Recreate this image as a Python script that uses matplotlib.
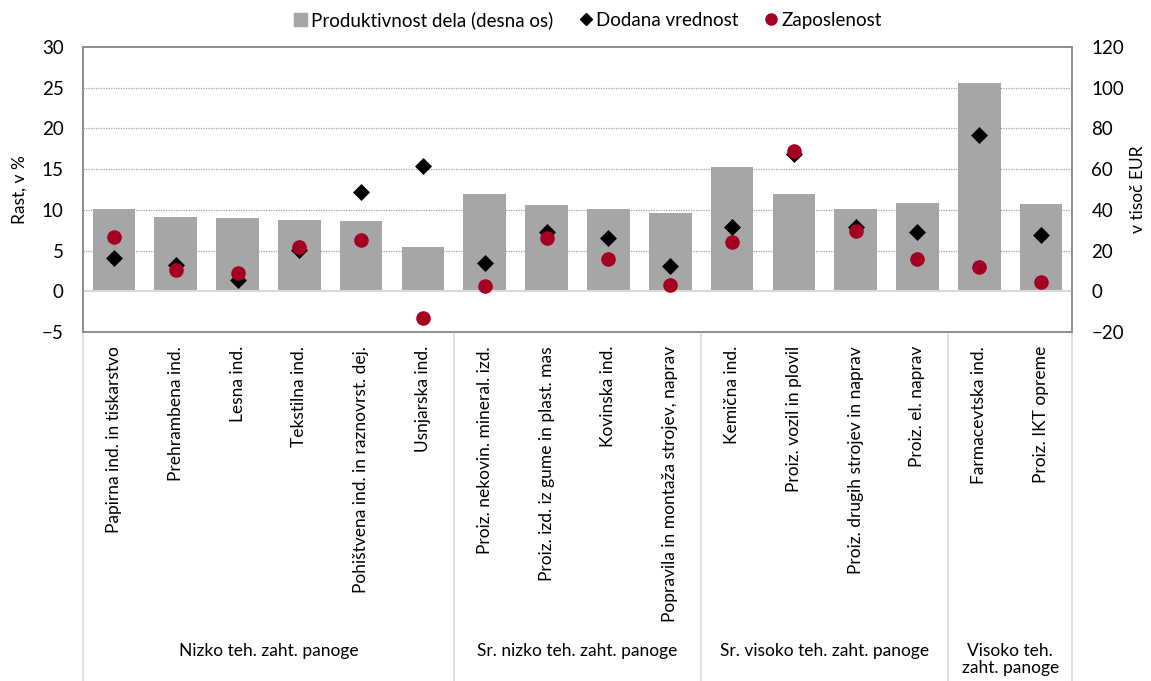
import numpy as np
import matplotlib.pyplot as plt
from matplotlib.lines import Line2D
from matplotlib.patches import Patch

plt.rcParams['font.family'] = ['Lato', 'DejaVu Sans']

# Panoge (categories)
categories = [
    'Papirna ind. in tiskarstvo', 'Prehrambena ind.', 'Lesna ind.', 'Tekstilna ind.',
    'Pohištvena ind. in raznovrst. dej.', 'Usnjarska ind.',
    'Proiz. nekovin. mineral. izd.', 'Proiz. izd. iz gume in plast. mas',
    'Kovinska ind.', 'Popravila in montaža strojev, naprav',
    'Kemična ind.', 'Proiz. vozil in plovil', 'Proiz. drugih strojev in naprav',
    'Proiz. el. naprav',
    'Farmacevtska ind.', 'Proiz. IKT opreme',
]
groups = ['Nizko teh. zaht. panoge', 'Sr. nizko teh. zaht. panoge',
          'Sr. visoko teh. zaht. panoge', 'Visoko teh.\nzaht. panoge']
group_sizes = [6, 4, 4, 2]

# Produktivnost dela, v tisoč EUR (desna os)
produktivnost = [40.3, 36.4, 35.9, 35.1, 34.7, 21.7,
                 47.9, 42.5, 40.5, 38.5,
                 61.2, 47.9, 40.2, 43.6,
                 102.1, 43.0]
# Rast dodane vrednosti, v %
dodana = [4.1, 3.2, 1.4, 5.1, 12.2, 15.4,
          3.5, 7.3, 6.6, 3.05,
          7.9, 16.8, 7.9, 7.3,
          19.2, 6.95]
# Rast zaposlenosti, v %
zaposlenost = [6.7, 2.6, 2.2, 5.5, 6.3, -3.3,
               0.6, 6.6, 3.95, 0.8,
               6.0, 17.2, 7.4, 3.95,
               3.0, 1.2]

W, H = 1151, 681
fig = plt.figure(figsize=(W / 100, H / 100), dpi=100)
left, right, top, bottom = 83, 1072, 47, 332
ax = fig.add_axes([left / W, 1 - bottom / H, (right - left) / W, (bottom - top) / H])
ax2 = ax.twinx()

x = np.arange(len(categories))
frame_col = '#8C8C8C'
sep_col = '#D9D9D9'

# bars on right axis
ax2.bar(x, produktivnost, width=0.69, color='#A6A6A6', zorder=2)
ax2.set_ylim(-20, 120)
ax2.set_yticks(np.arange(-20, 121, 20))
ax2.set_axisbelow(True)
for v in range(20, 101, 20):
    ax2.axhline(v, color='#A0A0A0', lw=0.9, ls=(0, (1, 1)), zorder=0)
ax2.axhline(0, color=sep_col, lw=1.5, zorder=3)

# markers on left axis, drawn above bars
ax.set_zorder(ax2.get_zorder() + 1)
ax.patch.set_visible(False)
ax.scatter(x, dodana, marker='D', s=75, color='black', zorder=4, linewidths=0)
ax.scatter(x, zaposlenost, marker='o', s=110, color='#A50021', zorder=5, linewidths=0)
ax.set_ylim(-5, 30)
ax.set_yticks(np.arange(-5, 31, 5))
ax.set_xlim(-0.5, len(categories) - 0.5)

ax.set_xticks(x)
ax.set_xticklabels(categories, rotation=90, va='top', ha='center', fontsize=12.5)
ax.tick_params(axis='x', length=0, pad=10)
ax.tick_params(axis='y', length=0, labelsize=13.5, pad=14)
ax2.tick_params(axis='y', length=0, labelsize=13.5, pad=14)

for a in (ax, ax2):
    for s in a.spines.values():
        s.set_color(frame_col)
        s.set_linewidth(1.2)

ax.set_ylabel('Rast, v %', fontsize=12.5, labelpad=10)
ax2.set_ylabel('v tisoč EUR', fontsize=12.5, labelpad=4)

# group separators and labels below the axis
trans = ax.get_xaxis_transform()
y_end = -(H - bottom) / (bottom - top)
edges = np.concatenate([[0], np.cumsum(group_sizes)]) - 0.5
for e in edges:
    ax.add_line(Line2D([e, e], [0, y_end], transform=trans, color=sep_col,
                       lw=1.2, clip_on=False))
for g, a_, b_ in zip(groups, edges[:-1], edges[1:]):
    ax.text((a_ + b_) / 2, -(643 - bottom) / (bottom - top), g, transform=trans,
            ha='center', va='top', fontsize=12.5, linespacing=1.1)

handles = [
    Patch(color='#A6A6A6', label='Produktivnost dela (desna os)'),
    Line2D([], [], marker='D', ls='', color='black', markersize=6, label='Dodana vrednost'),
    Line2D([], [], marker='o', ls='', color='#A50021', markersize=8, label='Zaposlenost'),
]
fig.legend(handles=handles, loc='center', bbox_to_anchor=(588 / W, 1 - 20 / H), ncol=3,
           frameon=False, fontsize=13.5, handlelength=0.7, handletextpad=0.2,
           columnspacing=1.4)

fig.savefig('out.png', dpi=100)
